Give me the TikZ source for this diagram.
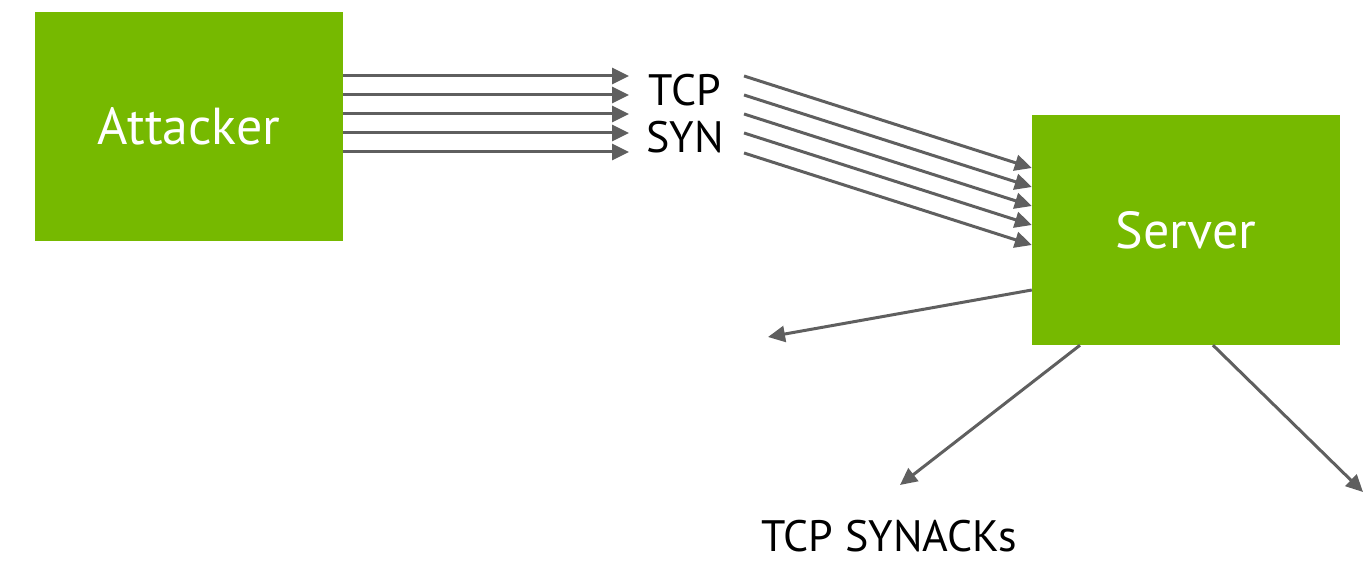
\documentclass[tikz,border=0pt]{standalone}
\usepackage{fontspec}
\setmainfont{PT Sans}
\usetikzlibrary{arrows.meta,calc}
\definecolor{nvgreen}{HTML}{76B900}
\definecolor{wire}{HTML}{5F5F5F}
\tikzset{
  box/.style={fill=nvgreen, draw=none, minimum width=308pt, minimum height=229pt,
              inner sep=0pt, text=white, font=\fontsize{52}{56}\selectfont},
  lbl/.style={inner sep=0pt, text=black, font=\fontsize{44}{47}\selectfont, align=center},
  arr/.style={draw=wire, line width=3pt,
              -{Triangle[length=17pt,width=16pt]}},
}
\begin{document}
\begin{tikzpicture}[x=1pt,y=-1pt]
  \useasboundingbox (0,0) rectangle (1364,561);

  % hosts
  \node[box] (attacker) at (189,126.5) {Attacker};
  \node[box, minimum height=230pt] (server) at (1186,230) {Server};

  % labels
  \node[lbl] (syn) at (685,114) {TCP\\SYN};
  \node[lbl, anchor=base] (synack) at (889,551) {TCP SYNACKs};

  % flood of SYN packets from the attacker
  \foreach \i/\y in {1/76,2/95,3/114,4/133,5/152}{
    \coordinate (h\i) at (629,\y);
    \draw[arr] (attacker.east |- 0,\y) -- (h\i);
  }
  % SYN packets arriving at the server
  \foreach \i/\y in {1/76,2/95,3/114,4/133,5/153}{
    \coordinate (d\i) at (744,\y);
    \draw[arr] (d\i) -- (server.west |- 0,{\y+92});
  }

  % SYN-ACK replies leaving the server
  \coordinate (r1) at (768,337);
  \coordinate (r2) at (900,485);
  \coordinate (r3) at (1363,492);
  \draw[arr] (server.west |- 0,290) -- (r1);
  \draw[arr] (server.south -| 1080,0) -- (r2);
  \draw[arr] (server.south -| 1213,0) -- (r3);
\end{tikzpicture}
\end{document}
